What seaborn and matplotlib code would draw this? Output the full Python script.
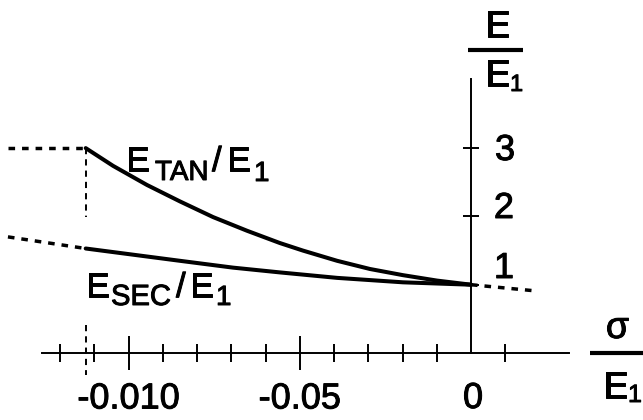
import matplotlib
matplotlib.use("Agg")
import matplotlib.pyplot as plt
import matplotlib.patheffects as pe
import seaborn as sns
import pandas as pd

# ---------------- data ----------------
tan_strain = [-0.01125, -0.01045, -0.00946, -0.00850, -0.00753, -0.00654, -0.00558,
              -0.00491, -0.00391, -0.00295, -0.00199, -0.00099, 0.0]
tan_ratio = [3.00, 2.74, 2.46, 2.22, 1.99, 1.79, 1.61, 1.50, 1.35, 1.23, 1.14, 1.06, 1.00]

sec_strain = [-0.01125, -0.00850, -0.00695, -0.00558, -0.00391, -0.00199, 0.0]
sec_ratio = [1.53, 1.35, 1.25, 1.18, 1.10, 1.035, 1.00]

tan_plateau_strain = [-0.01352, -0.01125]
tan_plateau_ratio = [3.0, 3.0]
sec_left_strain = [-0.01352, -0.01125]
sec_left_ratio = [1.70, 1.53]
sec_right_strain = [0.0, 0.00187]
sec_right_ratio = [1.00, 0.91]

limit_strain = -0.01125
limit_upper = [3.0, 1.99]
limit_lower = [0.41, -0.32]

x_major = [-0.010, -0.005]
x_major_labels = ["-0.010", "-0.05"]
x_minor = [-0.012, -0.011, -0.009, -0.008, -0.007, -0.006,
           -0.004, -0.003, -0.002, -0.001, 0.001]
y_ticks = [1, 2, 3]
y_labels = ["1", "2", "3"]

# ---------------- style ----------------
sns.set_style("white")
plt.rcParams['font.family'] = ['Liberation Sans', 'DejaVu Sans']
plt.rcParams['text.color'] = 'black'

W, H = 643, 420
fig = plt.figure(figsize=(W / 100, H / 100), dpi=100)
ax = fig.add_axes([0, 0, 1, 1])
ax.set_facecolor('white')

# pixel geometry of the reference: x=0 at px 471, 34.25 px per 0.001 ; y=0 at px 353, 68.3 px per unit
xpp = 0.001 / 34.25
ypp = 1 / 68.3
ax.set_xlim(-471 * xpp, (W - 471) * xpp)
ax.set_ylim((353 - H) * ypp, 353 * ypp)

BOLD = [pe.withStroke(linewidth=0.7, foreground='black')]


def fx(px):
    return px / W


def fy(py):
    return 1 - py / H


def label(px, py, s, size, ha='left'):
    ax.text(fx(px), fy(py), s, transform=ax.transAxes, ha=ha, va='baseline',
            fontsize=size, color='black', path_effects=BOLD)


# ---------------- curves ----------------
df_tan = pd.DataFrame({'strain': tan_strain, 'ratio': tan_ratio})
df_sec = pd.DataFrame({'strain': sec_strain, 'ratio': sec_ratio})
sns.lineplot(data=df_tan, x='strain', y='ratio', ax=ax, color='black', lw=2.9,
             estimator=None, sort=False, solid_capstyle='round', solid_joinstyle='round')
sns.lineplot(data=df_sec, x='strain', y='ratio', ax=ax, color='black', lw=2.9,
             estimator=None, sort=False, solid_capstyle='round', solid_joinstyle='round')

dot = (0, (1.9, 2.0))
ax.plot(tan_plateau_strain, tan_plateau_ratio, color='black', lw=2.5, linestyle=dot, dash_capstyle='butt')
ax.plot(sec_left_strain, sec_left_ratio, color='black', lw=2.5, linestyle=dot, dash_capstyle='butt')
ax.plot(sec_right_strain, sec_right_ratio, color='black', lw=2.5, linestyle=dot, dash_capstyle='butt')

dash = (0, (3.2, 2.6))
ax.plot([limit_strain, limit_strain], limit_upper, color='black', lw=1.4, linestyle=dash)
ax.plot([limit_strain, limit_strain], limit_lower, color='black', lw=1.4, linestyle=dash)

# ---------------- axes ----------------
for s in ['top', 'right']:
    ax.spines[s].set_visible(False)
ax.spines['left'].set_position(('data', 0))
ax.spines['bottom'].set_position(('data', 0))
ax.spines['left'].set_bounds(0, 274 * ypp)
ax.spines['bottom'].set_bounds((42 - 471) * xpp, (569 - 471) * xpp)
for s in ['left', 'bottom']:
    ax.spines[s].set_linewidth(1.4)
    ax.spines[s].set_color('black')

ax.set_xticks(x_major)
ax.set_xticklabels(x_major_labels)
ax.set_xticks(x_minor, minor=True)
ax.tick_params(axis='x', which='both', bottom=True, top=False)
ax.tick_params(axis='x', which='major', direction='inout', length=25, width=1.4,
               pad=8, labelsize=26, colors='black')
ax.tick_params(axis='x', which='minor', direction='inout', length=13, width=1.4, colors='black')
ax.set_yticks(y_ticks)
ax.tick_params(axis='y', which='major', left=True, right=False, direction='inout',
               length=11.5, width=1.4, labelleft=False, colors='black')
for t in ax.get_xticklabels():
    t.set_path_effects(BOLD)
ax.set_xlabel('')
ax.set_ylabel('')

# tick numbers placed beside the axes as in the reference
label(473, 408, "0", 26, ha='center')
label(505, 160, y_labels[2], 26, ha='center')
label(504, 218, y_labels[1], 26, ha='center')
label(504, 278, y_labels[0], 26, ha='center')

# curve labels  E_TAN / E_1  and  E_SEC / E_1
label(126, 171, "E", 25)
label(155, 180, "TAN", 20)
label(212, 171, "/", 25)
label(227, 171, "E", 25)
label(254, 181, "1", 20)

label(86, 297, "E", 25)
label(111, 305, "SEC", 21)
label(176, 297, "/", 25)
label(190, 297, "E", 25)
label(216, 305, "1", 20)

# axis fraction labels
label(497.5, 37, "E", 27, ha='center')
ax.plot([fx(468), fx(523)], [fy(50), fy(50)], transform=ax.transAxes, color='black',
        lw=3, solid_capstyle='butt', clip_on=False)
label(485, 86, "E", 27)
label(510, 91, "1", 17)

label(617.5, 338, "σ", 27, ha='center')
ax.plot([fx(590), fx(645)], [fy(353), fy(353)], transform=ax.transAxes, color='black',
        lw=3, solid_capstyle='butt', clip_on=False)
label(603, 398, "E", 27)
label(628, 402, "1", 18)

fig.savefig('out.png', dpi=100, facecolor='white')
